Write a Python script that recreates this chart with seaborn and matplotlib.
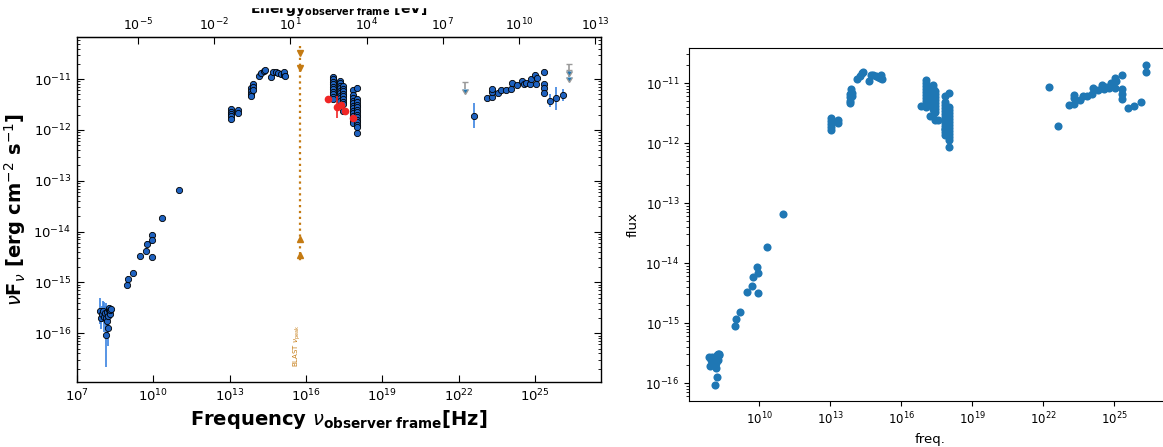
import matplotlib
matplotlib.use("Agg")
import matplotlib.pyplot as plt
from matplotlib.patches import Rectangle
from matplotlib.ticker import FixedLocator, NullLocator, LogLocator
import numpy as np
import pandas as pd
import seaborn as sns

# Planck constant in eV s (frequency -> energy for the top axis)
H_EV = 4.135667e-15

# All values in log10: frequency [Hz], nuFnu [erg cm-2 s-1], error [dex]
radio_lognu = [7.89, 7.93, 7.97, 8.02, 8.05, 8.10, 8.13, 8.15, 8.17, 8.18, 8.20, 8.22,
               8.24, 8.27, 8.28, 8.30, 8.32,
               8.97, 9.01, 9.19, 9.49, 9.71, 9.76, 9.93, 9.96, 9.95, 10.33, 11.0]
radio_logf = [-15.56, -15.71, -15.62, -15.57, -15.68, -15.61, -16.03, -15.70, -15.75, -15.59,
              -15.66, -15.90, -15.54, -15.51, -15.62, -15.54, -15.52,
              -15.05, -14.93, -14.82, -14.49, -14.38, -14.24, -14.06, -14.17, -14.50,
              -13.74, -13.19]
radio_err = [0.25, 0.20, 0.15, 0.20, 0.30, 0.15, 0.63, 0.20, 0.10, 0.10, 0.10, 0.35,
             0.10, 0.05, 0.05, 0.05, 0.05,
             0.06, 0.05, 0.05, 0.03, 0.06, 0.05, 0.05, 0.08, 0.04, 0.03, 0.03]

opt_lognu = [13.05, 13.05, 13.05, 13.05, 13.05, 13.33, 13.33,
             13.83, 13.83, 13.83, 13.85, 13.90, 13.92, 13.92,
             14.15, 14.25, 14.35, 14.40,
             14.64, 14.72, 14.82, 14.92, 15.02, 15.12, 15.15, 15.18]
opt_logf = [-11.59, -11.64, -11.68, -11.73, -11.79, -11.61, -11.67,
            -11.18, -11.24, -11.30, -11.34, -11.10, -11.16, -11.22,
            -10.94, -10.88, -10.84, -10.82,
            -10.96, -10.86, -10.86, -10.88, -10.90, -10.91, -10.86, -10.93]
opt_err = [0.05, 0.05, 0.05, 0.05, 0.08, 0.04, 0.04,
           0.03, 0.03, 0.03, 0.03, 0.03, 0.03, 0.03,
           0.02, 0.02, 0.02, 0.02,
           0.02, 0.02, 0.02, 0.02, 0.02, 0.02, 0.02, 0.02]

xray_lognu = [17.07] * 10 + [17.33] * 9 + [17.45] * 9 + [17.85] * 13 + [18.02] * 14
xray_logf = [-10.95, -11.00, -11.05, -11.10, -11.15, -11.20, -11.25, -11.30, -11.35, -11.40,
             -11.03, -11.08, -11.13, -11.18, -11.23, -11.28, -11.33, -11.38, -11.43,
             -11.14, -11.19, -11.24, -11.29, -11.34, -11.39, -11.44, -11.49, -11.62,
             -11.22, -11.32, -11.37, -11.42, -11.47, -11.52, -11.57, -11.62, -11.67,
             -11.72, -11.77, -11.82, -11.87,
             -11.17, -11.40, -11.45, -11.50, -11.55, -11.60, -11.65, -11.70, -11.75,
             -11.80, -11.85, -11.90, -11.95, -12.06]
xray_err = [0.03] * 41 + [0.06] + [0.03] * 12 + [0.08]

red_lognu = [16.86, 17.22, 17.38, 17.55, 17.85]
red_logf = [-11.39, -11.55, -11.50, -11.62, -11.76]
red_err = [0.03, 0.22, 0.05, 0.04, 0.06]

gamma_lognu = [22.62, 23.10, 23.30, 23.30, 23.30, 23.55, 23.68, 23.85, 24.05, 24.10,
               24.30, 24.50, 24.58, 24.65, 24.80, 24.85, 25.02, 25.08, 25.05,
               25.35, 25.35, 25.35, 25.35, 25.58, 25.83, 26.12]
gamma_logf = [-11.72, -11.37, -11.35, -11.25, -11.20, -11.28, -11.22, -11.22, -11.19, -11.08,
              -11.12, -11.03, -11.10, -11.07, -11.09, -11.00, -10.91, -10.97, -11.09,
              -10.86, -11.10, -11.18, -11.27, -11.42, -11.38, -11.31]
gamma_err = [0.25, 0.03, 0.03, 0.03, 0.03, 0.03, 0.03, 0.03, 0.03, 0.03,
             0.03, 0.03, 0.03, 0.03, 0.03, 0.05, 0.05, 0.05, 0.03,
             0.03, 0.04, 0.05, 0.06, 0.13, 0.22, 0.12]

ul_lognu = [22.25, 26.35, 26.35]
ul_logf = [-11.06, -10.70, -10.82]

blast_lognu = 15.77
blast_span = [-10.35, -14.60]
blast_down = [-10.48, -10.78]
blast_up = [-14.15, -14.46]

BLUE_FACE = "#1f62c0"
BLUE_BAR = "#3b83e0"
RED = "#f02525"
ORANGE = "#c47a12"


def lin(v):
    return 10.0 ** np.asarray(v, dtype=float)


def dex_err(logf, err):
    f = lin(logf)
    e = np.asarray(err, dtype=float)
    return [f - f * 10.0 ** -e, f * 10.0 ** e - f]


fig = plt.figure(figsize=(11.63, 4.47), dpi=100)

# --------------------------------------------------------------------------- #
# Left panel: SED with error bars
# --------------------------------------------------------------------------- #
ax = fig.add_axes([77 / 1163, 65 / 447, 524 / 1163, 345 / 447])
for lnu, lf, err in [(radio_lognu, radio_logf, radio_err),
                     (opt_lognu, opt_logf, opt_err),
                     (xray_lognu, xray_logf, xray_err),
                     (gamma_lognu, gamma_logf, gamma_err)]:
    ax.errorbar(lin(lnu), lin(lf), yerr=dex_err(lf, err), fmt="o", ms=4.5,
                mfc=BLUE_FACE, mec="black", mew=0.6, ecolor=BLUE_BAR,
                elinewidth=1.2, capsize=0, zorder=3)
ax.errorbar(lin(red_lognu), lin(red_logf), yerr=dex_err(red_logf, red_err), fmt="o",
            ms=4.5, mfc=RED, mec=RED, ecolor=RED, elinewidth=1.2, capsize=0, zorder=4)

ul_f = lin(ul_logf)
ax.errorbar(lin(ul_lognu), ul_f, yerr=[ul_f - ul_f * 10 ** -0.14, np.zeros(len(ul_f))],
            uplims=True, fmt="none", ecolor="#9a9a9a", elinewidth=1.2, capsize=2.5,
            zorder=3)

bx = 10.0 ** blast_lognu
ax.plot([bx, bx], lin(blast_span), ls=":", color=ORANGE, lw=1.6, zorder=2)
ax.plot([bx] * 2, lin(blast_down), "v", color=ORANGE, ms=4.5, zorder=2)
ax.plot([bx] * 2, lin(blast_up), "^", color=ORANGE, ms=4.5, zorder=2)
ax.text(bx / 1.35, 2.2e-17, r"BLAST $\nu_{\rm peak}$", rotation=90, color=ORANGE,
        fontsize=5, ha="center", va="bottom")

ax.set_xscale("log")
ax.set_yscale("log")
ax.set_xlim(1e7, 10 ** 27.6)
ax.set_ylim(10 ** -16.96, 10 ** -10.17)
ax.xaxis.set_major_locator(FixedLocator(lin(np.arange(7, 26, 3))))
ax.xaxis.set_minor_locator(NullLocator())
ax.yaxis.set_major_locator(FixedLocator(lin(np.arange(-16, -10))))
ax.yaxis.set_minor_locator(LogLocator(base=10, subs=np.arange(2, 10), numticks=30))
ax.tick_params(which="both", direction="in", right=True, labelsize=9.5)
ax.tick_params(which="major", length=5, pad=4)
ax.tick_params(which="minor", length=2.5)
ax.set_xlabel(r"Frequency $\nu_{\mathbf{observer\ frame}}$[Hz]", fontsize=14,
              fontweight="bold", labelpad=3)
ax.set_ylabel(r"$\nu\mathbf{F}_{\nu}$ [erg cm$^{-2}$ s$^{-1}$]", fontsize=14,
              fontweight="bold", labelpad=4)
for s in ax.spines.values():
    s.set_linewidth(1.0)

sec = ax.secondary_xaxis("top", functions=(lambda n: n * H_EV, lambda e: e / H_EV))
sec.xaxis.set_major_locator(FixedLocator(lin(np.arange(-5, 14, 3))))
sec.xaxis.set_minor_locator(NullLocator())
sec.tick_params(direction="in", length=5, labelsize=9, pad=2.5)

fig.text(339 / 1163, 1 - 13 / 447, r"Energy$_{\mathbf{observer\ frame}}$ [eV]",
         ha="center", va="baseline", fontsize=10, fontweight="bold")
# the top of the energy label is cut off in the original
fig.add_artist(Rectangle((0, 1 - 7 / 447), 0.55, 7 / 447,
                         transform=fig.transFigure, color="white", zorder=10))

# --------------------------------------------------------------------------- #
# Right panel: plain seaborn scatter of all points
# --------------------------------------------------------------------------- #
all_lognu = radio_lognu + opt_lognu + xray_lognu + red_lognu + gamma_lognu + ul_lognu
all_logf = radio_logf + opt_logf + xray_logf + red_logf + gamma_logf + ul_logf
df = pd.DataFrame({"freq.": lin(all_lognu), "flux": lin(all_logf)})

ax2 = fig.add_axes([689 / 1163, 46 / 447, 482 / 1163, 352.7 / 447])
sns.scatterplot(data=df, x="freq.", y="flux", ax=ax2, s=34, color="#1f77b4",
                linewidth=0)
ax2.set_xscale("log")
ax2.set_yscale("log")
ax2.set_xlim(10 ** 7.04, 10 ** 27.4)
ax2.set_ylim(10 ** -16.3, 10 ** -10.42)
ax2.xaxis.set_major_locator(FixedLocator(lin(np.arange(10, 26, 3))))
ax2.xaxis.set_minor_locator(NullLocator())
ax2.yaxis.set_major_locator(FixedLocator(lin(np.arange(-16, -10))))
ax2.yaxis.set_minor_locator(LogLocator(base=10, subs=np.arange(2, 10), numticks=30))
ax2.tick_params(labelsize=8.5)
ax2.set_xlabel("freq.", fontsize=9.5)
ax2.set_ylabel("flux", fontsize=9.5)

fig.savefig("out.png", dpi=100)
